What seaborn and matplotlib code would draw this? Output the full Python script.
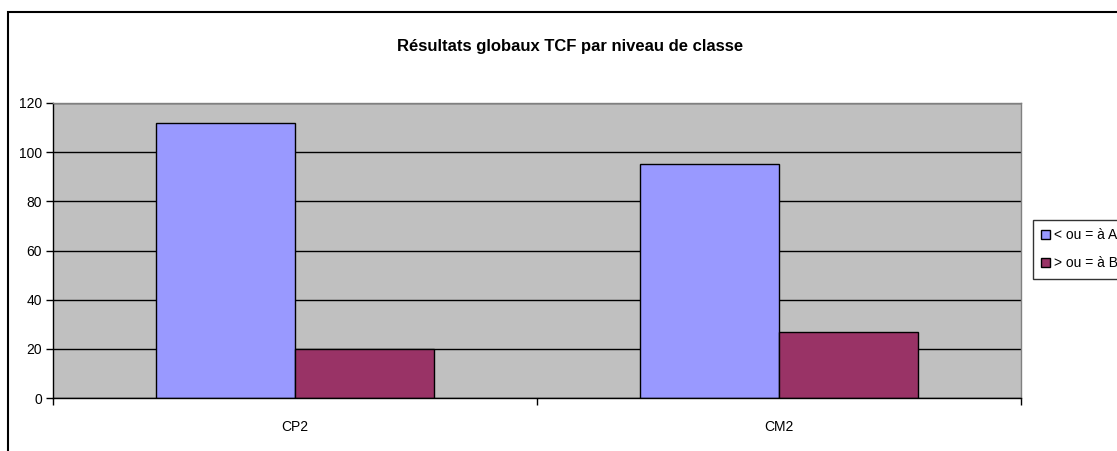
import matplotlib
matplotlib.use("Agg")
import matplotlib.pyplot as plt
import seaborn as sns
import pandas as pd
from matplotlib.patches import Rectangle

categories = ["CP2", "CM2"]
series_names = ["< ou = à A2", "> ou = à B1"]
values_a = [112, 95]
values_b = [20, 27]
y_ticks = [0, 20, 40, 60, 80, 100, 120]
title = "Résultats globaux TCF par niveau de classe"

df = pd.DataFrame({
    "classe": categories * 2,
    "serie": [series_names[0]] * len(categories) + [series_names[1]] * len(categories),
    "valeur": values_a + values_b,
})

sns.set_theme(style="white")
plt.rcParams["font.family"] = ["Liberation Sans", "DejaVu Sans"]
plt.rcParams["text.color"] = "black"
plt.rcParams["xtick.color"] = "black"
plt.rcParams["ytick.color"] = "black"
plt.rcParams["xtick.labelcolor"] = "black"
plt.rcParams["ytick.labelcolor"] = "black"

fig = plt.figure(figsize=(11.17, 4.51), dpi=100)
fig.patch.set_facecolor("white")
ax = fig.add_axes([53 / 1117, 1 - 398 / 451, (1021 - 53) / 1117, (398 - 103) / 451])

sns.barplot(data=df, x="classe", y="valeur", hue="serie", order=categories,
            hue_order=series_names, palette=["#9999FF", "#993366"],
            width=0.574, edgecolor="black", linewidth=1, saturation=1,
            ax=ax, legend=True)

ax.set_facecolor("#C0C0C0")
ax.set_ylim(0, 120)
ax.set_xlim(-0.5, len(categories) - 0.5)
ax.set_yticks(y_ticks)
ax.yaxis.grid(True, color="black", linewidth=1)
ax.set_axisbelow(True)
ax.set_xlabel("")
ax.set_ylabel("")
for side in ["top", "right"]:
    ax.spines[side].set_color("#808080")
    ax.spines[side].set_linewidth(1)
for side in ["left", "bottom"]:
    ax.spines[side].set_color("black")
    ax.spines[side].set_linewidth(1)

ax.tick_params(axis="y", which="major", length=5, width=1, color="black",
               labelcolor="black", labelsize=10, pad=3, left=True)
ax.set_xticks([i - 0.5 for i in range(len(categories) + 1)], minor=True)
ax.tick_params(axis="x", which="minor", length=5, width=1, color="black", bottom=True)
ax.tick_params(axis="x", which="major", length=0, labelcolor="black",
               labelsize=10, pad=16)

fig.text(570 / 1117, 1 - 47 / 451, title, ha="center", va="center",
         fontsize=12, fontweight="bold", color="black")

handles, labels = ax.get_legend_handles_labels()
ax.get_legend().remove()
leg = fig.legend(handles, labels, loc="upper left",
                 bbox_to_anchor=(1033 / 1117, 1 - 220 / 451),
                 frameon=True, fancybox=False, fontsize=10,
                 handlelength=0.6, handleheight=0.6, handletextpad=0.3,
                 labelspacing=1.0, borderpad=0.6, borderaxespad=0,
                 labelcolor="black")
leg.get_frame().set_edgecolor("black")
leg.get_frame().set_linewidth(1)
leg.get_frame().set_facecolor("white")

fig.patches.append(Rectangle((8 / 1117, -0.1), 1.2, 1 - 12 / 451 + 0.1,
                             transform=fig.transFigure, fill=False,
                             edgecolor="black", linewidth=1.5, clip_on=False))

fig.savefig("out.png", dpi=100)
